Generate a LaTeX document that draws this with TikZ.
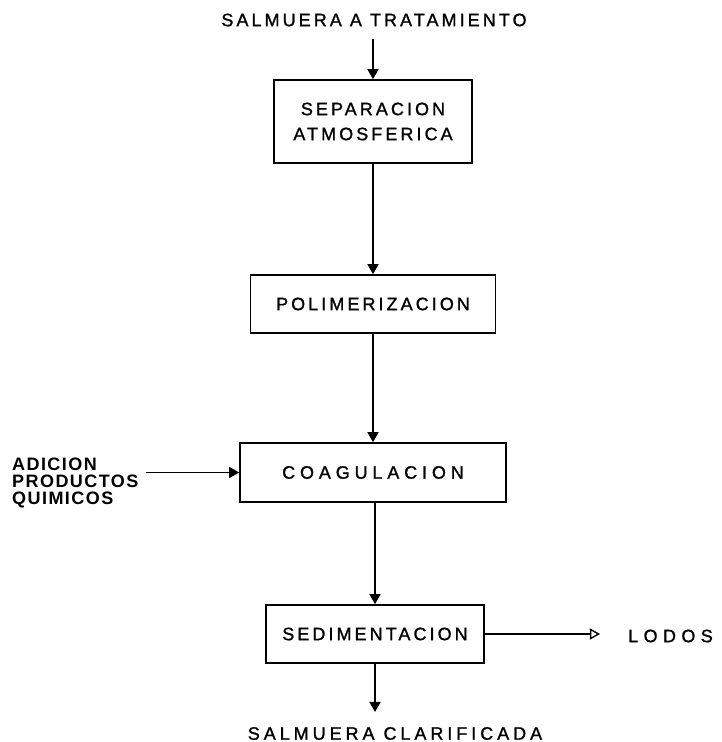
\documentclass[tikz,border=0pt]{standalone}
\usepackage{fontspec}
\setmainfont{Liberation Sans}
\newfontfamily\etiq{Liberation Sans}[LetterSpace=17,FakeBold=1.2]
\newfontfamily\etiqb{Liberation Sans Bold}[LetterSpace=8]
\usetikzlibrary{arrows.meta}
\tikzset{
  caja/.style={draw, line width=1.6pt, inner sep=0pt, align=center,
    font=\etiq\fontsize{18}{25}\selectfont},
  rotulo/.style={inner sep=0pt, font=\etiq\fontsize{18}{25}\selectfont},
  flujo/.style={line width=1.4pt, -{Triangle[width=11pt,length=10pt]}},
  salida/.style={line width=1.4pt, -{Triangle[open,width=11pt,length=10pt]}}
}
\begin{document}
\begin{tikzpicture}[x=1pt,y=-1pt]
\useasboundingbox (0,0) rectangle (721,742);
\node[rotulo] (entrada) at (374,20) {SALMUERA A TRATAMIENTO};
\node[caja, minimum width=198pt, minimum height=83pt] (separacion) at (373,121.5) {SEPARACION\\ATMOSFERICA};
\node[caja, minimum width=245pt, minimum height=58pt] (polimerizacion) at (373,304) {POLIMERIZACION};
\node[caja, minimum width=266pt, minimum height=59pt] (coagulacion) at (373,472.5) {\addfontfeature{LetterSpace=27}COAGULACION};
\node[caja, minimum width=218pt, minimum height=58pt] (sedimentacion) at (375,634) {SEDIMENTACION};
\node[rotulo, anchor=west, align=left, font=\etiqb\fontsize{18}{17}\selectfont] (adicion) at (12,483) {ADICION\\PRODUCTOS\\QUIMICOS};
\node[rotulo] (lodos) at (670.5,636) {\addfontfeature{LetterSpace=30}LODOS};
\node[rotulo] (clarificada) at (395,733.5) {\addfontfeature{LetterSpace=22}SALMUERA CLARIFICADA};
\draw[flujo, shorten <=12pt] (entrada.south -| separacion.north) -- (separacion.north);
\draw[flujo] (separacion) -- (polimerizacion);
\draw[flujo] (polimerizacion) -- (coagulacion);
\draw[flujo] (coagulacion.south -| sedimentacion.north) -- (sedimentacion.north);
\draw[flujo, shorten <=7pt] (adicion.east |- coagulacion.west) -- (coagulacion.west);
\draw[salida, shorten >=28pt] (sedimentacion.east) -- (sedimentacion.east -| lodos.west);
\draw[flujo, shorten >=15pt] (sedimentacion.south) -- (sedimentacion.south |- clarificada.north);
\end{tikzpicture}
\end{document}
